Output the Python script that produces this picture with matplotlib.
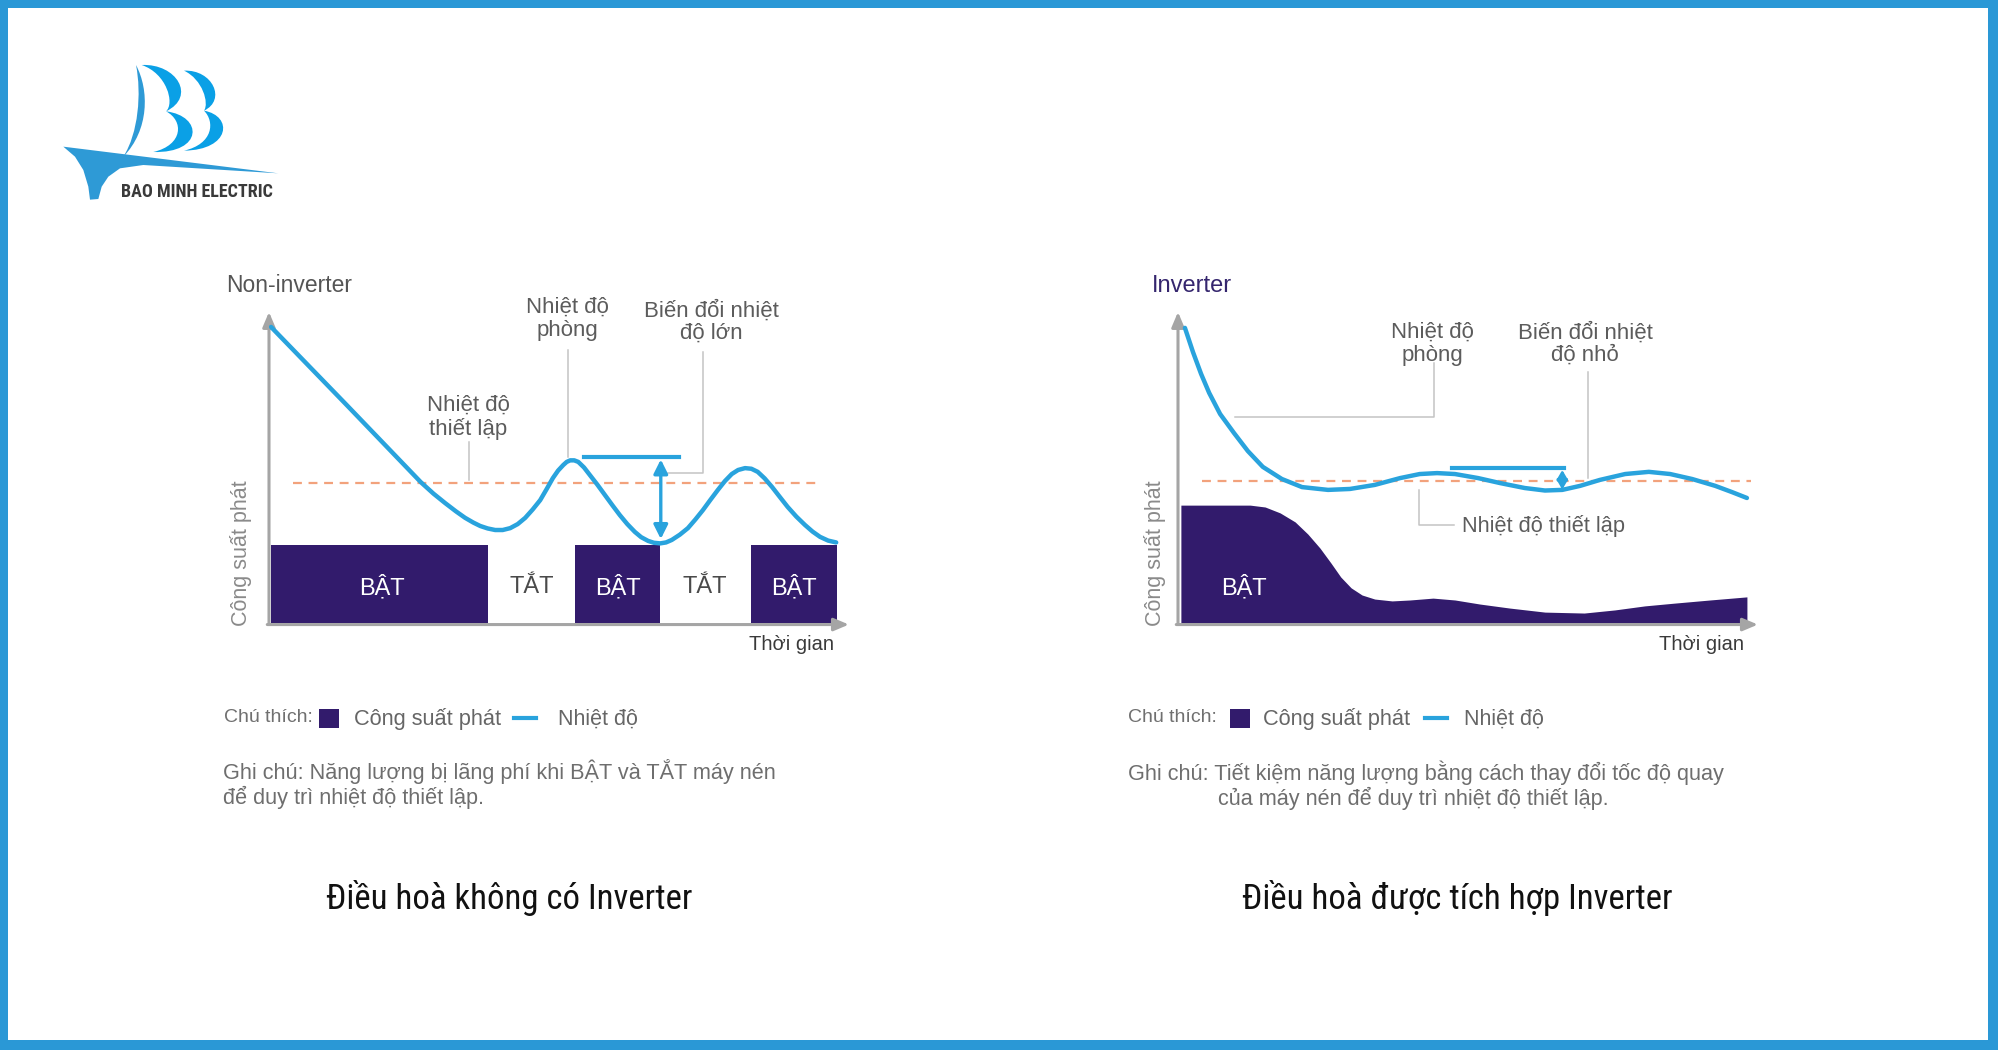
import matplotlib
matplotlib.use("Agg")
import matplotlib.pyplot as plt
import matplotlib.patches as patches
from matplotlib.path import Path
from matplotlib import font_manager

W, H = 1999, 1050

def pick(*names):
    avail = {f.name for f in font_manager.fontManager.ttflist}
    for n in names:
        if n in avail:
            return n
    return 'DejaVu Sans'

SANS = pick('Liberation Sans', 'Arial', 'DejaVu Sans')
NARROW = pick('Liberation Sans Narrow', 'Roboto Condensed', 'DejaVu Sans')

## ---------------------------------------------------------------- data
# time axis 0..100, level axis 0..100 (same scale for both charts)
noninv_on_start = [0.4, 53.0, 83.5]
noninv_on_end = [38.0, 67.7, 98.4]
noninv_on_level = 25.0
noninv_state_labels = ['BẬT', 'TẮT', 'BẬT', 'TẮT', 'BẬT']
noninv_state_t = [19.6, 45.6, 60.5, 75.6, 91.0]

noninv_t = [0.35, 13.3, 26.3, 28.5, 30.5, 32.4, 34.0, 35.4, 36.6, 37.9, 39.2, 40.5,
            41.8, 43.1, 44.4, 45.7, 47.0, 48.1, 49.2, 50.1, 51.0, 51.6, 52.2, 52.9,
            53.6, 54.6, 55.6, 56.9, 58.2, 59.5, 60.8, 62.1, 63.4, 64.5, 65.7, 66.7,
            67.8, 68.8, 69.8, 71.2, 72.6, 73.9, 75.2, 76.5, 77.8, 79.0, 80.2, 81.3,
            82.5, 83.6, 84.7, 85.9, 87.2, 88.5, 89.9, 91.4, 92.9, 94.2, 95.5, 96.9, 98.3]
noninv_temp = [95.2, 70.4, 45.3, 41.6, 38.6, 35.9, 33.8, 32.3, 31.2, 30.4, 29.9, 29.9,
               30.5, 31.8, 33.8, 36.5, 39.5, 43.0, 46.6, 49.0, 50.8, 51.8, 52.3, 52.3,
               51.8, 50.0, 47.6, 44.5, 41.2, 37.9, 34.7, 31.8, 29.3, 27.6, 26.4, 25.8,
               25.6, 25.9, 26.7, 28.4, 30.5, 33.3, 36.3, 39.6, 42.8, 45.6, 47.9, 49.2,
               49.8, 49.6, 48.6, 46.5, 43.7, 40.6, 37.3, 34.2, 31.5, 29.4, 27.7, 26.5, 25.9]
noninv_setpoint = 45.0

inv_t = [1.2, 2.6, 4.0, 5.4, 7.3, 9.7, 12.1, 14.7, 18.0, 21.5, 26.0, 29.8, 34.1, 38.5,
         41.9, 44.9, 48.0, 52.0, 55.8, 60.1, 63.6, 66.6, 69.7, 73.1, 77.5, 81.6, 85.3,
         89.1, 93.1, 96.0, 98.6]
inv_temp = [94.9, 87.1, 80.1, 74.0, 67.2, 61.1, 55.3, 50.2, 46.3, 43.7, 42.8, 43.1,
            44.4, 46.6, 47.9, 48.2, 47.9, 46.6, 45.0, 43.4, 42.6, 42.8, 44.1, 46.0,
            47.9, 48.6, 47.9, 46.3, 44.1, 42.1, 40.2]
inv_setpoint = 45.7

inv_power_t = [0.5, 12.5, 15.1, 17.7, 20.3, 22.5, 24.6, 26.5, 28.2, 30.0, 31.9, 34.1,
               37.1, 40.2, 44.2, 48.0, 52.3, 57.5, 63.6, 70.4, 75.7, 80.9, 86.1, 92.2, 98.6]
inv_power = [37.9, 37.9, 37.3, 35.4, 32.5, 28.6, 24.1, 19.3, 14.8, 11.3, 9.0, 7.7,
             7.1, 7.4, 8.0, 7.4, 6.1, 4.8, 3.5, 3.2, 4.2, 5.5, 6.4, 7.4, 8.4]

## ---------------------------------------------------------------- style
PURPLE = '#321b6c'
CYAN = '#29a3dd'
ORANGE = '#f2a27c'
AXGRAY = '#a5a5a5'
LEAD = '#c4c4c4'
TXT = '#5c5c5c'
BLUE = '#2a98d6'

fig = plt.figure(figsize=(W / 100, H / 100), dpi=100)
bg = fig.add_axes([0, 0, 1, 1])
bg.set_xlim(0, W)
bg.set_ylim(H, 0)
bg.axis('off')

# frame
for (x, y, w, h) in [(0, 0, W, 8), (0, 0, 8, H), (W - 11, 0, 11, H), (0, H - 10, W, 10)]:
    bg.add_patch(patches.Rectangle((x, y), w, h, color=BLUE, lw=0))

# logo
def zp(zx, zy):
    return (60 + zx / 3.0, 50 + zy / 3.0)

def crescent(a, c1, c2, b, c3, c4, color):
    verts = [zp(*a), zp(*c1), zp(*c2), zp(*b), zp(*c3), zp(*c4), zp(*a), zp(*a)]
    codes = [Path.MOVETO, Path.CURVE4, Path.CURVE4, Path.CURVE4,
             Path.CURVE4, Path.CURVE4, Path.CURVE4, Path.CLOSEPOLY]
    bg.add_patch(patches.PathPatch(Path(verts, codes), color=color, lw=0))

hull = [(10, 290), (655, 370), (250, 345), (180, 355), (145, 380), (125, 410),
        (115, 447), (90, 449), (85, 410), (70, 360), (45, 320)]
bg.add_patch(patches.Polygon([zp(*p) for p in hull], closed=True, color='#2e9ad6', lw=0))
crescent((228, 45), (268, 120), (268, 240), (190, 320), (235, 250), (245, 130), '#2e9ad6')
crescent((245, 45), (350, 40), (410, 140), (318, 184), (345, 160), (320, 70), '#0aa0e6')
crescent((318, 184), (430, 198), (430, 310), (280, 306), (370, 285), (372, 212), '#0aa0e6')
crescent((372, 62), (458, 58), (500, 150), (432, 182), (448, 160), (428, 88), '#0aa0e6')
crescent((432, 182), (520, 198), (512, 300), (372, 302), (460, 282), (465, 215), '#0aa0e6')
bg.text(121, 192, 'BAO MINH ELECTRIC', fontsize=13, fontweight='bold', family=NARROW,
        color='#3a3a3a', ha='left', va='center')

## ---------------------------------------------------------------- charts
def chart_axes(left):
    ax = fig.add_axes([left / W, (H - 623) / H, 577 / W, 311 / H])
    ax.set_xlim(0, 100)
    ax.set_ylim(0, 100)
    ax.axis('off')
    ax.patch.set_alpha(0)
    return ax

def draw_axes_arrows(ax):
    ap = dict(arrowstyle='-|>,head_length=0.9,head_width=0.38', color=AXGRAY, lw=2.2,
              shrinkA=0, shrinkB=0, mutation_scale=10)
    ax.annotate('', xy=(0, 100), xytext=(0, -0.5), arrowprops=ap, annotation_clip=False)
    ax.annotate('', xy=(100.5, -0.5), xytext=(-0.3, -0.5), arrowprops=ap, annotation_clip=False)

def lead(ax, ts, vs):
    ax.plot(ts, vs, color=LEAD, lw=1.1, zorder=1, clip_on=False)

# --- non-inverter
ax1 = chart_axes(269)
for s, e in zip(noninv_on_start, noninv_on_end):
    ax1.bar(s, noninv_on_level, width=e - s, align='edge', color=PURPLE, lw=0, zorder=2)
for lab, tt in zip(noninv_state_labels, noninv_state_t):
    ax1.text(tt, 11.6, lab, ha='center', va='center', fontsize=17, family=SANS,
             color='white' if lab == 'BẬT' else '#4a4a4a', zorder=4)
draw_axes_arrows(ax1)
ax1.plot([4.2, 95.5], [noninv_setpoint] * 2, color=ORANGE, lw=1.6, dashes=(4, 3), zorder=2)
lead(ax1, [34.7, 34.7], [58.2, 46.0])
lead(ax1, [51.8, 51.8], [87.8, 53.4])
lead(ax1, [75.2, 75.2, 69.2], [87.1, 48.2, 48.2])
ax1.plot(noninv_t, noninv_temp, color=CYAN, lw=3.2, zorder=3, solid_capstyle='round',
         solid_joinstyle='round')
ax1.plot([54.6, 71.1], [53.4, 53.4], color=CYAN, lw=3.0, zorder=3)
ax1.annotate('', xy=(67.9, 27.0), xytext=(67.9, 52.6),
             arrowprops=dict(arrowstyle='<|-|>,head_length=0.7,head_width=0.35', color=CYAN,
                             lw=2.4, shrinkA=0, shrinkB=0, mutation_scale=12))

# --- inverter
ax2 = chart_axes(1178)
ax2.fill_between(inv_power_t, 0, inv_power, color=PURPLE, lw=0, zorder=2)
ax2.text(11.4, 11.6, 'BẬT', ha='center', va='center', fontsize=17, family=SANS,
         color='white', zorder=4)
draw_axes_arrows(ax2)
ax2.plot([4.2, 99.3], [inv_setpoint] * 2, color=ORANGE, lw=1.6, dashes=(4, 3), zorder=2)
lead(ax2, [44.4, 44.4, 9.9], [83.6, 66.2, 66.2])
lead(ax2, [71.1, 71.1], [80.7, 46.6])
lead(ax2, [41.8, 41.8, 47.8], [42.8, 31.5, 31.5])
ax2.plot(inv_t, inv_temp, color=CYAN, lw=3.2, zorder=3, solid_capstyle='round',
         solid_joinstyle='round')
ax2.plot([47.5, 66.9], [49.8, 49.8], color=CYAN, lw=3.0, zorder=3)
ax2.annotate('', xy=(66.6, 42.9), xytext=(66.6, 49.2),
             arrowprops=dict(arrowstyle='<|-|>,head_length=0.6,head_width=0.35', color=CYAN,
                             lw=2.0, shrinkA=0, shrinkB=0, mutation_scale=9))

## ---------------------------------------------------------------- texts (pixel coords)
def t(x, y, s, size=14, color=TXT, ha='left', va='center', **kw):
    bg.text(x, y, s, fontsize=size, color=color, ha=ha, va=va, family=kw.pop('family', SANS), **kw)

t(226, 285, 'Non-inverter', 16.5, '#555555')
t(567, 319, 'Nhiệt độ\nphòng', 16, ha='center', linespacing=1.12)
t(711, 322, 'Biến đổi nhiệt\nđộ lớn', 16, ha='center', linespacing=1.12)
t(468, 417, 'Nhiệt độ\nthiết lập', 16, ha='center', linespacing=1.12)
t(241, 553, 'Công suất phát', 15.5, '#8a8a8a', ha='center', rotation=90)
t(792, 644, 'Thời gian', 14.5, '#3a3a3a', ha='center')

t(1152, 286, 'Inverter', 17, '#35266e')
t(1432, 344, 'Nhiệt độ\nphòng', 16, ha='center', linespacing=1.12)
t(1585, 344, 'Biến đổi nhiệt\nđộ nhỏ', 16, ha='center', linespacing=1.12)
t(1462, 526, 'Nhiệt độ thiết lập', 15.7)
t(1155, 553, 'Công suất phát', 15.5, '#8a8a8a', ha='center', rotation=90)
t(1702, 645, 'Thời gian', 14.5, '#3a3a3a', ha='center')

# legends
for x0, sq, tx1, d0, tx2 in [(224, 319, 354, 514, 558), (1128, 1230, 1263, 1425, 1464)]:
    t(x0, 718, 'Chú thích:', 14, '#707070')
    bg.add_patch(patches.Rectangle((sq, 709), 20, 19, color=PURPLE, lw=0))
    t(tx1, 719, 'Công suất phát', 15.7, '#666666')
    bg.plot([d0, d0 + 22], [718, 718], color=CYAN, lw=3)
    t(tx2, 719, 'Nhiệt độ', 15.5, '#666666')

t(223, 772, 'Ghi chú: Năng lượng bị lãng phí khi BẬT và TẮT máy nén', 15.6, '#6e6e6e')
t(223, 797, 'để duy trì nhiệt độ thiết lập.', 15.6, '#6e6e6e')
t(1128, 773, 'Ghi chú: Tiết kiệm năng lượng bằng cách thay đổi tốc độ quay', 15.6, '#6e6e6e')
t(1218, 798, 'của máy nén để duy trì nhiệt độ thiết lập.', 15.6, '#6e6e6e')

t(509, 898, 'Điều hoà không có Inverter', 25, '#111111', ha='center', family=NARROW)
t(1457, 898, 'Điều hoà được tích hợp Inverter', 25, '#111111', ha='center', family=NARROW)

fig.savefig('out.png', dpi=100, facecolor='white')
